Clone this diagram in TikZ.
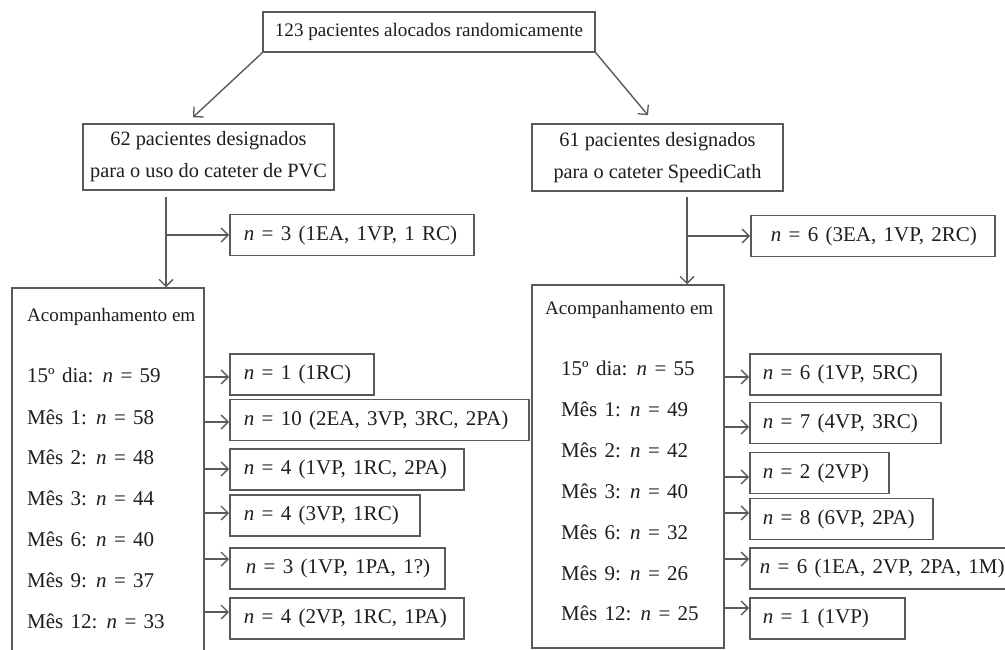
\documentclass[tikz,border=0pt]{standalone}
\usepackage{fontspec}
\setmainfont{Liberation Serif}
\usetikzlibrary{arrows.meta,calc}
\definecolor{ln}{RGB}{90,90,90}
\definecolor{tx}{RGB}{30,30,30}
\newcommand\mybx[3]{\makebox[#1pt][l]{\hspace{#2pt}#3}}
\newcommand\mywide{\fontsize{21}{32}\selectfont\spaceskip 0.35em plus 0.1em minus 0.1em\relax}
\begin{document}
\begin{tikzpicture}[x=1pt,y=-1pt,
  font=\fontsize{19.1}{32}\selectfont,
  mfont/.style={font=\mywide},
  box/.style={draw=ln, line width=1.5pt, text=tx, inner sep=0pt, fill=white},
  sbox/.style={box, mfont, anchor=west, minimum height=41},
  lbl/.style={anchor=west, text=tx, inner sep=0pt},
  mlbl/.style={lbl, mfont},
  arr/.style={draw=ln, line width=1.4pt, -{Straight Barb[length=7pt,width=14pt,line width=1.3pt]}}]
\clip (0,0) rectangle (1005,650);
\fill[white] (0,0) rectangle (1005,650);
% main boxes
\node[box, minimum width=332, minimum height=40] (top) at (429,32) {123 pacientes alocados randomicamente};
\node[box, font=\fontsize{20.3}{32}\selectfont, minimum width=251, minimum height=66, align=center] (A) at (208.5,157) {62 pacientes designados\\para o uso do cateter de PVC};
\node[box, font=\fontsize{20.3}{32}\selectfont, minimum width=251, minimum height=67, align=center] (B) at (657.5,157.5) {61 pacientes designados\\para o cateter SpeediCath};
% follow-up boxes
\node[box, minimum width=192, minimum height=377] (lfol) at (108,476.5) {};
\node[box, minimum width=192, minimum height=363] (rfol) at (628,466.5) {};
% left follow-up texts
\node[lbl] (lt0) at (27,317) {Acompanhamento em};
\node[mlbl] (lt1) at (27,375) {15º dia: \textit{n} = 59};
\node[mlbl] (lt2) at (27,417) {Mês 1: \textit{n} = 58};
\node[mlbl] (lt3) at (27,457) {Mês 2: \textit{n} = 48};
\node[mlbl] (lt4) at (27,498) {Mês 3: \textit{n} = 44};
\node[mlbl] (lt5) at (27,539) {Mês 6: \textit{n} = 40};
\node[mlbl] (lt6) at (27,580) {Mês 9: \textit{n} = 37};
\node[mlbl] (lt7) at (27,621) {Mês 12: \textit{n} = 33};
% right follow-up texts
\node[lbl] (rt0) at (545,310) {Acompanhamento em};
\node[mlbl] (rt1) at (561,368) {15º dia: \textit{n} = 55};
\node[mlbl] (rt2) at (561,409) {Mês 1: \textit{n} = 49};
\node[mlbl] (rt3) at (561,450) {Mês 2: \textit{n} = 42};
\node[mlbl] (rt4) at (561,491) {Mês 3: \textit{n} = 40};
\node[mlbl] (rt5) at (561,532) {Mês 6: \textit{n} = 32};
\node[mlbl] (rt6) at (561,573) {Mês 9: \textit{n} = 26};
\node[mlbl] (rt7) at (561,613) {Mês 12: \textit{n} = 25};
% left small boxes
\node[sbox] (l0) at (229,235) {\mybx{244}{14}{\textit{n} = 3 (1EA, 1VP, 1 RC)}};
\node[sbox] (l1) at (229,374.5) {\mybx{144}{14}{\textit{n} = 1 (1RC)}};
\node[sbox] (l2) at (229,420) {\mybx{299}{14}{\textit{n} = 10 (2EA, 3VP, 3RC, 2PA)}};
\node[sbox] (l3) at (229,469.5) {\mybx{234}{14}{\textit{n} = 4 (1VP, 1RC, 2PA)}};
\node[sbox] (l4) at (229,515.5) {\mybx{190}{14}{\textit{n} = 4 (3VP, 1RC)}};
\node[sbox] (l5) at (229,568.5) {\mybx{215}{16}{\textit{n} = 3 (1VP, 1PA, 1?)}};
\node[sbox] (l6) at (229,618.5) {\mybx{234}{14}{\textit{n} = 4 (2VP, 1RC, 1PA)}};
% right small boxes
\node[sbox] (r0) at (750,236) {\mybx{244}{20}{\textit{n} = 6 (3EA, 1VP, 2RC)}};
\node[sbox] (r1) at (749,374.5) {\mybx{191}{13}{\textit{n} = 6 (1VP, 5RC)}};
\node[sbox] (r2) at (749,423) {\mybx{191}{13}{\textit{n} = 7 (4VP, 3RC)}};
\node[sbox] (r3) at (749,473) {\mybx{139}{13}{\textit{n} = 2 (2VP)}};
\node[sbox] (r4) at (749,519) {\mybx{183}{13}{\textit{n} = 8 (6VP, 2PA)}};
\node[sbox] (r5) at (749,568.5) {\mybx{270}{10}{\textit{n} = 6 (1EA, 2VP, 2PA, 1M)}};
\node[sbox] (r6) at (749,618.5) {\mybx{155}{13}{\textit{n} = 1 (1VP)}};
% diagonal arrows
\draw[arr] (top.south west) -- ([shift={(-15.5,-6)}]A.north);
\draw[arr] (top.south east) -- ([shift={(-9.5,-8)}]B.north);
% vertical connectors
\coordinate (ls) at (166,197);
\coordinate (rs) at (687,197);
\draw[arr] (ls) -- (ls |- lfol.north);
\draw[arr] (ls |- l0.west) -- (l0.west);
\draw[arr] (rs) -- (rs |- rfol.north);
\draw[arr] (rs |- r0.west) -- (r0.west);
% left follow-up arrows
\draw[arr] ([yshift=-2.5pt]l1.west -| lfol.east) -- ([yshift=-2.5pt]l1.west);
\draw[arr] ([yshift=-2pt]l2.west -| lfol.east) -- ([yshift=-2pt]l2.west);
\draw[arr] ([yshift=0.5pt]l3.west -| lfol.east) -- ([yshift=0.5pt]l3.west);
\draw[arr] ([yshift=2.5pt]l4.west -| lfol.east) -- ([yshift=2.5pt]l4.west);
\draw[arr] ([yshift=9.5pt]l5.west -| lfol.east) -- ([yshift=9.5pt]l5.west);
\draw[arr] ([yshift=6.5pt]l6.west -| lfol.east) -- ([yshift=6.5pt]l6.west);
% right follow-up arrows
\draw[arr] ([yshift=-2.5pt]r1.west -| rfol.east) -- ([yshift=-2.5pt]r1.west);
\draw[arr] ([yshift=-4pt]r2.west -| rfol.east) -- ([yshift=-4pt]r2.west);
\draw[arr] ([yshift=-4pt]r3.west -| rfol.east) -- ([yshift=-4pt]r3.west);
\draw[arr] ([yshift=6pt]r4.west -| rfol.east) -- ([yshift=6pt]r4.west);
\draw[arr] ([yshift=9.5pt]r5.west -| rfol.east) -- ([yshift=9.5pt]r5.west);
\draw[arr] ([yshift=10.5pt]r6.west -| rfol.east) -- ([yshift=10.5pt]r6.west);
\end{tikzpicture}
\end{document}
